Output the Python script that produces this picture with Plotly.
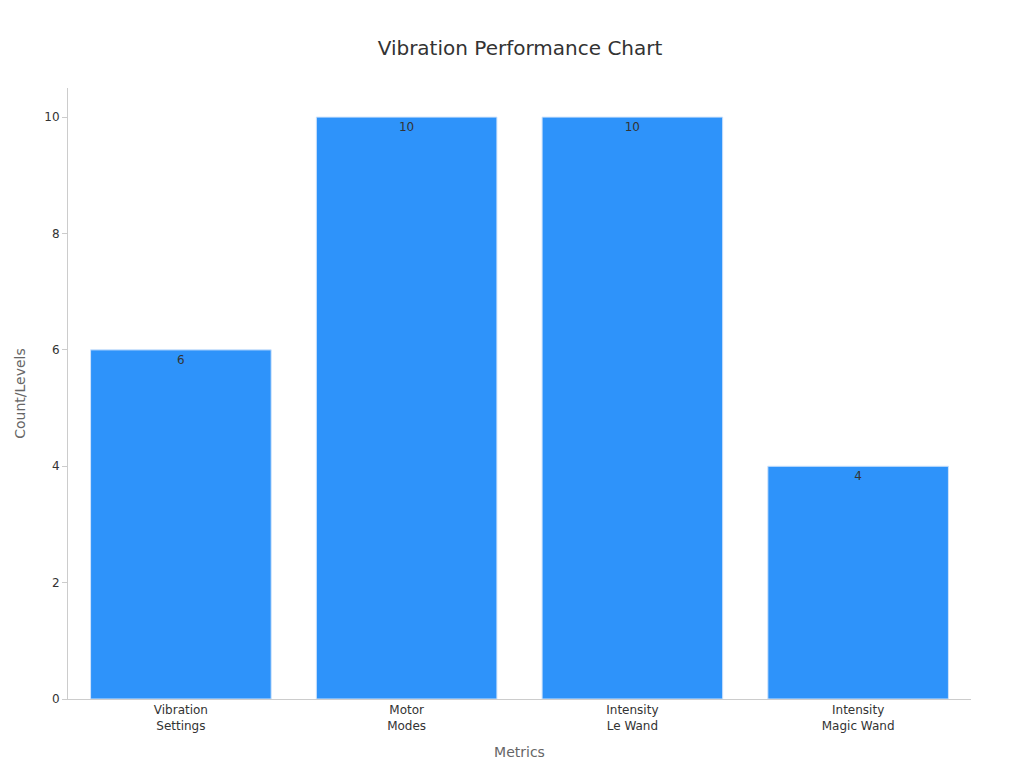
import plotly.graph_objects as go

categories = ["Vibration<br>Settings", "Motor<br>Modes", "Intensity<br>Le Wand", "Intensity<br>Magic Wand"]
values = [6, 10, 10, 4]

fig = go.Figure(go.Bar(
    x=categories, y=values, text=values, textposition="inside",
    insidetextanchor="end", textfont=dict(color="#333333", size=12),
    marker=dict(color="#2E93FA", line=dict(color="#cfe3fb", width=1)),
    width=0.8,
))
fig.update_layout(
    width=1024, height=768,
    font=dict(family="DejaVu Sans", size=12, color="#333333"),
    title=dict(text="Vibration Performance Chart", x=0.5, y=0.957, xanchor="center",
               font=dict(size=20, color="#333333")),
    plot_bgcolor="white", paper_bgcolor="white",
    margin=dict(l=60, r=61, t=80, b=77),
    showlegend=False,
    xaxis=dict(title=dict(text="Metrics", font=dict(color="#666666", size=14)),
               showline=True, linecolor="#cccccc", ticks="", tickfont=dict(size=12)),
    yaxis=dict(title=dict(text="Count/Levels", font=dict(color="#666666", size=14)),
               range=[0, 10.5], dtick=2, showgrid=False, showline=True, linecolor="#cccccc",
               ticks="outside", ticklen=5, tickcolor="#cccccc", zeroline=False),
)
fig.write_html("out.html")
